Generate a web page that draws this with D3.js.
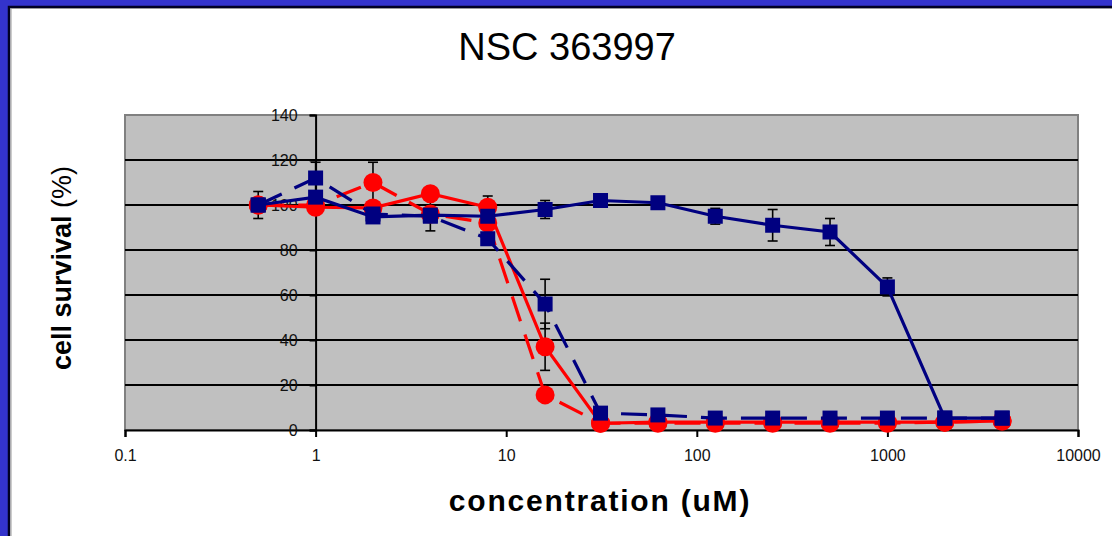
<!DOCTYPE html>
<html>
<head>
<meta charset="utf-8">
<script src="https://cdn.jsdelivr.net/npm/d3@7"></script>
<style>
  html, body { margin: 0; padding: 0; background: #fff; }
  svg { display: block; }
  text { font-family: "Liberation Sans", Arial, sans-serif; }
</style>
</head>
<body>
<div id="chart"></div>
<script>
// Concentrations (uM), doubling series
const conc = [0.5, 1, 2, 4, 8, 16, 31.25, 62.5, 125, 250, 500, 1000, 2000, 4000];

// Cell survival (%) per series, with error values (0 = no bar)
const blueSolid    = [100, 103.5, 94.7, 95.5, 95, 98, 102, 101, 95, 91, 88, 63.6, 5.3, 5.3];
const blueSolidErr = [6, 0, 0, 7, 0, 4, 0, 0, 3.5, 7, 6, 4, 0, 0];
const blueDashed    = [100, 112, 96, 95, 85, 56, 7.5, 6.7, 5.3, 5.3, 5.3, 5.3, 5.3, 5.3];
const blueDashedErr = [0, 7, 0, 0, 0, 11, 0, 0, 0, 0, 0, 0, 0, 0];
const redSolid    = [100, 99, 98.7, 105, 99, 37, 3, 3.5, 3.5, 3.5, 3.5, 3.5, 3.5, 4];
const redSolidErr = [0, 0, 0, 0, 5, 10.5, 0, 0, 0, 0, 0, 0, 0, 0];
const redDashed    = [100, 100, 110, 96, 92, 15.6, 3, 3, 3, 3, 3, 3, 3.5, 4];
const redDashedErr = [0, 0, 9, 0, 0, 0, 0, 0, 0, 0, 0, 0, 0, 0];

const xTicks = [0.1, 1, 10, 100, 1000, 10000];
const xTickLabels = ["0.1", "1", "10", "100", "1000", "10000"];
const yTicks = [0, 20, 40, 60, 80, 100, 120, 140];

const W = 1112, H = 536;
const plot = {left: 125, right: 1078, top: 115, bottom: 430};

const svg = d3.select("#chart")
    .append("svg")
    .attr("width", W)
    .attr("height", H);

// white page with blue frame on left and top
svg.append("rect").attr("width", W).attr("height", H).attr("fill", "#fff");
svg.append("rect").attr("x", 0).attr("y", 0).attr("width", W).attr("height", 6).attr("fill", "#3333cc");
svg.append("rect").attr("x", 0).attr("y", 0).attr("width", 8).attr("height", H).attr("fill", "#3333cc");
svg.append("path")
    .attr("d", `M9,${H} V7 H${W}`)
    .attr("fill", "none")
    .attr("stroke", "#000022")
    .attr("stroke-width", 2.5);
svg.append("path")
    .attr("d", `M11,${H} V8.5 H${W}`)
    .attr("fill", "none")
    .attr("stroke", "#999")
    .attr("stroke-width", 1);

// scales
const x = d3.scaleLog().domain([0.1, 10000]).range([plot.left, plot.right]);
const y = d3.scaleLinear().domain([0, 140]).range([plot.bottom, plot.top]);

// plot area
svg.append("rect")
    .attr("x", plot.left)
    .attr("y", plot.top)
    .attr("width", plot.right - plot.left)
    .attr("height", plot.bottom - plot.top)
    .attr("fill", "#c0c0c0")
    .attr("stroke", "#808080")
    .attr("stroke-width", 2);

// gridlines
svg.append("g")
    .selectAll("line")
    .data(yTicks.filter(d => d > 0 && d < 140))
    .enter()
    .append("line")
    .attr("x1", plot.left)
    .attr("x2", plot.right)
    .attr("y1", d => y(d))
    .attr("y2", d => y(d))
    .attr("stroke", "#000")
    .attr("stroke-width", 2);

// x axis
const xAxis = svg.append("g")
    .attr("transform", `translate(0,${plot.bottom})`)
    .call(d3.axisBottom(x)
        .tickValues(xTicks)
        .tickFormat((d, i) => xTickLabels[i])
        .tickSize(7)
        .tickSizeOuter(7)
        .tickPadding(13));
xAxis.select(".domain").attr("stroke-width", 2);
xAxis.selectAll(".tick line").attr("stroke-width", 2);
xAxis.selectAll("text")
    .attr("font-size", 16)
    .attr("fill", "#111")
    .attr("font-family", "Liberation Sans, Arial, sans-serif");

// y axis crossing at x = 1
const yAxis = svg.append("g")
    .attr("transform", `translate(${x(1)},0)`)
    .call(d3.axisLeft(y)
        .tickValues(yTicks)
        .tickSize(6)
        .tickSizeOuter(6)
        .tickPadding(12));
yAxis.select(".domain").attr("stroke-width", 2);
yAxis.selectAll(".tick line").attr("stroke-width", 2);
yAxis.selectAll("text")
    .attr("font-size", 16)
    .attr("fill", "#111")
    .attr("font-family", "Liberation Sans, Arial, sans-serif");

// series
const series = [
    {vals: redDashed, err: redDashedErr, color: "#ff0000", dash: "26,14", marker: "circle"},
    {vals: redSolid, err: redSolidErr, color: "#ff0000", dash: null, marker: "circle"},
    {vals: blueDashed, err: blueDashedErr, color: "#000080", dash: "26,14", marker: "square"},
    {vals: blueSolid, err: blueSolidErr, color: "#000080", dash: null, marker: "square"}
];

const line = d3.line()
    .x((d, i) => x(conc[i]))
    .y(d => y(d));

// error bars first (black)
series.forEach(s => {
    const g = svg.append("g").attr("stroke", "#000").attr("stroke-width", 1.6);
    s.vals.forEach((v, i) => {
        if (!s.err[i]) return;
        const cx = x(conc[i]);
        const y1 = y(v + s.err[i]), y2 = y(v - s.err[i]);
        g.append("line").attr("x1", cx).attr("x2", cx).attr("y1", y1).attr("y2", y2);
        g.append("line").attr("x1", cx - 5).attr("x2", cx + 5).attr("y1", y1).attr("y2", y1);
        g.append("line").attr("x1", cx - 5).attr("x2", cx + 5).attr("y1", y2).attr("y2", y2);
    });
});

series.forEach(s => {
    svg.append("path")
        .datum(s.vals)
        .attr("d", line)
        .attr("fill", "none")
        .attr("stroke", s.color)
        .attr("stroke-width", 3.2)
        .attr("stroke-dasharray", s.dash);

    if (s.marker === "circle") {
        svg.append("g")
            .selectAll("circle")
            .data(s.vals)
            .enter()
            .append("circle")
            .attr("cx", (d, i) => x(conc[i]))
            .attr("cy", d => y(d))
            .attr("r", 9.5)
            .attr("fill", s.color);
    } else {
        svg.append("g")
            .selectAll("rect")
            .data(s.vals)
            .enter()
            .append("rect")
            .attr("x", (d, i) => x(conc[i]) - 7.5)
            .attr("y", d => y(d) - 7.5)
            .attr("width", 15)
            .attr("height", 15)
            .attr("fill", s.color);
    }
});

// title
svg.append("text")
    .attr("x", 567)
    .attr("y", 60)
    .attr("text-anchor", "middle")
    .attr("font-size", 38)
    .attr("fill", "#000")
    .text("NSC 363997");

// x label
svg.append("text")
    .attr("x", 600)
    .attr("y", 511)
    .attr("text-anchor", "middle")
    .attr("font-size", 30)
    .attr("letter-spacing", 1.8)
    .attr("font-weight", "bold")
    .attr("fill", "#000")
    .text("concentration (uM)");

// y label
const yLabel = svg.append("text")
    .attr("transform", "translate(71,268) rotate(-90)")
    .attr("text-anchor", "middle")
    .attr("font-size", 27)
    .attr("fill", "#000");
yLabel.append("tspan").attr("font-weight", "bold").text("cell survival");
yLabel.append("tspan").text(" (%)");
</script>
</body>
</html>
